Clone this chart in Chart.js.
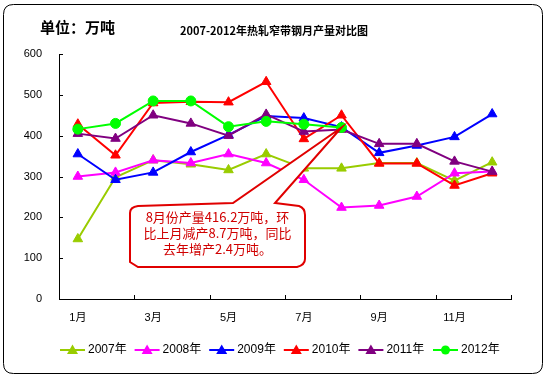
<!DOCTYPE html>
<html><head><meta charset="utf-8">
<script src="https://cdn.jsdelivr.net/npm/chart.js@4/dist/chart.umd.min.js"></script>
<style>html,body{margin:0;padding:0;background:#fff}canvas{display:block}</style>
</head><body>
<canvas id="c" width="546" height="384"></canvas>
<script>
const months = ['1月','2月','3月','4月','5月','6月','7月','8月','9月','10月','11月','12月'];
const yTicks = [0,100,200,300,400,500,600];
const seriesNames = ['2007年','2008年','2009年','2010年','2011年','2012年'];
const y2007 = [147, 298, 340, 330, 316, 355, 320, 320, 333, 333, 290, 335];
const y2008 = [300, 310, 340, 333, 355, 333, 292, 224, 229, 251, 308, 312];
const y2009 = [355, 292, 310, 360, 402, 448, 443, 421, 358, 376, 397, 453];
const y2010 = [428, 352, 480, 483, 482, 532, 392, 450, 332, 332, 278, 308];
const y2011 = [405, 393, 450, 430, 400, 452, 410, 415, 380, 380, 337, 312];
const y2012 = [416, 430, 485, 485, 422, 435, 428, 420];
const calloutLines = ['8月份产量416.2万吨，环','比上月减产8.7万吨，同比','去年增产2.4万吨。'];
const unitText = '单位：万吨';
const titleText = '2007-2012年热轧窄带钢月产量对比图';

const colors = ['#99CC00','#FF00FF','#0000FF','#FF0000','#800080','#00FF00'];
const styles = ['triangle','triangle','triangle','triangle','triangle','circle'];
const allData = [y2007,y2008,y2009,y2010,y2011,y2012];

const datasets = allData.map((d,i)=>({
  label: seriesNames[i], data: d, borderColor: colors[i], backgroundColor: colors[i],
  borderWidth: 2, pointStyle: styles[i], pointRadius: styles[i]==='circle'?5:5.5,
  pointBorderWidth: 1, tension: 0, order: 5 - i
}));

const deco = {
  id: 'deco',
  beforeDraw(chart){
    const ctx = chart.ctx;
    ctx.save();
    ctx.fillStyle = '#fff';
    ctx.fillRect(0,0,546,384);
    const x0=3.5,y0=4.5,x1=542.5,y1=373.5,r=10;
    ctx.beginPath();
    ctx.moveTo(x0+r,y0); ctx.lineTo(x1-r,y0); ctx.quadraticCurveTo(x1,y0,x1,y0+r);
    ctx.lineTo(x1,y1-r); ctx.quadraticCurveTo(x1,y1,x1-r,y1);
    ctx.lineTo(x0+r,y1); ctx.quadraticCurveTo(x0,y1,x0,y1-r);
    ctx.lineTo(x0,y0+r); ctx.quadraticCurveTo(x0,y0,x0+r,y0);
    ctx.strokeStyle = '#000'; ctx.lineWidth = 1; ctx.stroke();
    ctx.fillStyle = '#000';
    ctx.textBaseline = 'middle';
    ctx.textAlign = 'left';
    ctx.font = 'bold 15px "Noto Sans CJK SC"';
    ctx.fillText(unitText, 40, 27);
    ctx.textAlign = 'center';
    ctx.font = 'bold 11px "Noto Sans CJK SC"';
    ctx.fillText(titleText, 274, 31);
    ctx.restore();
  },
  afterDraw(chart){
    const ctx = chart.ctx;
    const xs = chart.scales.x, ys = chart.scales.y;
    ctx.save();
    ctx.strokeStyle = '#000'; ctx.lineWidth = 1;
    ctx.beginPath();
    yTicks.forEach(v=>{ const y = Math.round(ys.getPixelForValue(v))+0.5; ctx.moveTo(xs.left, y); ctx.lineTo(xs.left+4, y); });
    const step = xs.width / months.length;
    for (let k=0;k<=months.length;k+=2){ const x = Math.round(xs.left + k*step)+0.5; ctx.moveTo(x, ys.bottom); ctx.lineTo(x, ys.bottom-4); }
    ctx.stroke();
    // legend
    ctx.textBaseline = 'middle'; ctx.textAlign = 'left';
    ctx.font = '12px "Liberation Sans", "Noto Sans CJK SC"';
    seriesNames.forEach((n,i)=>{
      const lx = 60 + i*74.6, ly = 350;
      ctx.strokeStyle = colors[i]; ctx.lineWidth = 2;
      ctx.beginPath(); ctx.moveTo(lx, ly); ctx.lineTo(lx+25, ly); ctx.stroke();
      ctx.fillStyle = colors[i];
      const cx = lx+12.5;
      ctx.beginPath();
      if (styles[i]==='circle'){ ctx.arc(cx, ly, 4.5, 0, Math.PI*2); }
      else { ctx.moveTo(cx, ly-5.5); ctx.lineTo(cx+5.5, ly+4); ctx.lineTo(cx-5.5, ly+4); ctx.closePath(); }
      ctx.fill();
      ctx.fillStyle = '#000';
      ctx.fillText(n, lx+28, ly);
    });
    // callout
    const tx = xs.getPixelForValue(7), ty = ys.getPixelForValue(y2012[7]);
    const L = xs.left + 71, R = xs.left + 246, T = 205, B = 267;
    ctx.beginPath();
    ctx.moveTo(L+8, T+1);
    ctx.lineTo(xs.left+174, T-2);
    ctx.lineTo(tx, ty);
    ctx.lineTo(xs.left+216, T-2);
    ctx.lineTo(R-6, T+1);
    ctx.quadraticCurveTo(R, T+3, R, T+10);
    ctx.lineTo(R, B-8);
    ctx.quadraticCurveTo(R, B-2, R-8, B);
    ctx.lineTo(L+8, B);
    ctx.lineTo(L, B-5);
    ctx.lineTo(L, T+8);
    ctx.quadraticCurveTo(L, T+2, L+8, T+1);
    ctx.closePath();
    ctx.fillStyle = '#fff'; ctx.fill();
    ctx.strokeStyle = '#E00000'; ctx.lineWidth = 2; ctx.lineJoin = 'miter'; ctx.stroke();
    ctx.fillStyle = '#D00000'; ctx.textAlign = 'center'; ctx.textBaseline = 'middle';
    ctx.font = '13px "Noto Sans CJK SC"';
    calloutLines.forEach((s,i)=> ctx.fillText(s, (L+R)/2, 217 + i*16));
    ctx.restore();
  }
};

new Chart(document.getElementById('c'), {
  type: 'line',
  data: { labels: months, datasets },
  options: {
    responsive: false, animation: false, devicePixelRatio: 1,
    layout: { padding: { left: 0, right: 35, top: 54, bottom: 55 } },
    plugins: { legend: { display: false }, tooltip: { enabled: false } },
    scales: {
      x: {
        offset: true,
        grid: { display: false },
        border: { display: true, color: '#000', width: 1 },
        ticks: { autoSkip: false, maxRotation: 0, color: '#000', padding: 4,
          font: { size: 11, family: '"Liberation Sans", "Noto Sans CJK SC"' },
          callback: (v, i) => i % 2 === 0 ? months[i] : '' },
        afterFit: s => { s.height = 30; }
      },
      y: {
        min: 0, max: 600,
        grid: { display: false },
        border: { display: true, color: '#000', width: 1 },
        ticks: { stepSize: 100, color: '#000', padding: 9,
          font: { size: 11, family: '"Liberation Sans", sans-serif' } },
        afterFit: s => { s.width = 59; }
      }
    }
  },
  plugins: [deco]
});
</script>
</body></html>
